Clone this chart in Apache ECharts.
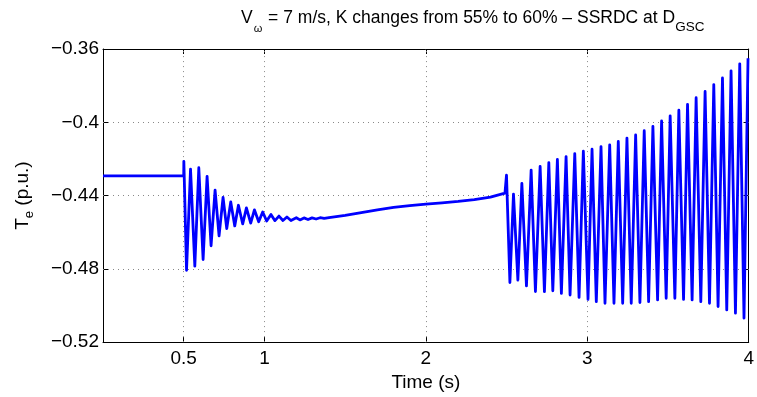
<!DOCTYPE html>
<html>
<head>
<meta charset="utf-8">
<script src="https://cdn.jsdelivr.net/npm/echarts@6/dist/echarts.min.js"></script>
<style>html,body{margin:0;padding:0;background:#fff}#c{width:757px;height:397px}</style>
</head>
<body>
<div id="c"></div>
<script>
// Time (s)
var timeS = [0, 0.5,
  0.5008, 0.5175, 0.5422, 0.5688, 0.5935, 0.6201, 0.6448, 0.6695, 0.6943, 0.7190,
  0.7437, 0.7666, 0.7913, 0.8161, 0.8389, 0.8655, 0.8884, 0.9150, 0.9379, 0.9645,
  0.9892, 1.0139, 1.0405, 1.0652, 1.0900, 1.1147, 1.1394, 1.1641, 1.1975,
  1.22, 1.245, 1.27, 1.295, 1.32, 1.345, 1.37, 1.40,
  1.5, 1.6, 1.7, 1.8, 1.9, 2.0, 2.1, 2.2, 2.3, 2.4, 2.49, 2.4995,
  2.5206, 2.5428, 2.5700, 2.5947, 2.6232, 2.6522, 2.6788, 2.7079, 2.7345, 2.7617,
  2.7864, 2.8148, 2.8396, 2.8686, 2.8933, 2.9224, 2.9490, 2.9756, 3.0046, 3.0294,
  3.0559, 3.0850, 3.1097, 3.1388, 3.1654, 3.1920, 3.2192, 3.2457, 3.2723, 3.2995,
  3.3261, 3.3527, 3.3799, 3.4065, 3.4355, 3.4603, 3.4887, 3.5134, 3.5425, 3.5672,
  3.5963, 3.6210, 3.6494, 3.6742, 3.7032, 3.7298, 3.7570, 3.7836, 3.8102, 3.8374,
  3.8640, 3.8906, 3.9178, 3.9444, 3.9709, 3.9957];
// Electromagnetic torque Te (p.u.)
var torquePU = [-0.4293, -0.4293,
  -0.4213, -0.4808, -0.4256, -0.4785, -0.4248, -0.4749, -0.4295, -0.4674, -0.4370, -0.4620,
  -0.4410, -0.4580, -0.4435, -0.4566, -0.4453, -0.4555, -0.4467, -0.4550, -0.4478, -0.4543,
  -0.4490, -0.4539, -0.4503, -0.4537, -0.4512, -0.4536, -0.4517, -0.4536, -0.4521,
  -0.4533, -0.4522, -0.4531, -0.4522, -0.4528, -0.4521, -0.4525, -0.4520,
  -0.4508, -0.4493, -0.4478, -0.4465, -0.4455, -0.4447, -0.4440, -0.4432, -0.4422, -0.4409, -0.4387, -0.4288,
  -0.4875, -0.4392, -0.4862, -0.4333, -0.4893, -0.4261, -0.4924, -0.4241, -0.4925, -0.4220,
  -0.4920, -0.4203, -0.4934, -0.4187, -0.4943, -0.4171, -0.4956, -0.4158, -0.4967, -0.4147,
  -0.4979, -0.4133, -0.4988, -0.4123, -0.4988, -0.4105, -0.4988, -0.4086, -0.4988, -0.4069,
  -0.4984, -0.4046, -0.4979, -0.4022, -0.4970, -0.3993, -0.4961, -0.3965, -0.4961, -0.3934,
  -0.4967, -0.3902, -0.4970, -0.3866, -0.4979, -0.3832, -0.4988, -0.3794, -0.5006, -0.3758,
  -0.5024, -0.3719, -0.5042, -0.3681, -0.5069, -0.3650];
var xTicks = [0.5, 1, 2, 3, 4];
var xGrid = [0.5, 1, 2, 3];
var yGrid = [-0.4, -0.44, -0.48];

var data = timeS.map(function (t, i) { return [t, torquePU[i]]; });
var FONT = '"Liberation Sans", Arial, sans-serif';
function yFmt(v) { return String(parseFloat(v.toFixed(2))).replace('-', '\u2212'); }

var gridLines = xGrid.map(function (v) { return { xAxis: v }; })
  .concat(yGrid.map(function (v) { return { yAxis: v }; }));

var chart = echarts.init(document.getElementById('c'), null, { renderer: 'canvas' });
chart.setOption({
  animation: false,
  backgroundColor: '#fff',
  title: {
    text: '{n|V}{w|\u03c9}{n| = 7 m/s, K changes from 55% to 60% \u2013 SSRDC at D}{s|GSC}',
    left: 236, top: 4,
    textStyle: {
      fontWeight: 'normal',
      rich: {
        n: { fontFamily: FONT, fontSize: 17.5, fontWeight: 'normal', color: '#000', lineHeight: 22, verticalAlign: 'top' },
        w: { fontFamily: FONT, fontSize: 11, fontWeight: 'normal', color: '#000', lineHeight: 22, verticalAlign: 'top', padding: [14, 1, 0, 1] },
        s: { fontFamily: FONT, fontSize: 13.5, fontWeight: 'normal', color: '#000', lineHeight: 22, verticalAlign: 'top', padding: [11, 0, 0, 0] }
      }
    }
  },
  grid: { left: 103, top: 49, right: 7, bottom: 51, containLabel: false },
  xAxis: [{
    type: 'value', min: 0, max: 4, interval: 0.5,
    name: 'Time (s)', nameLocation: 'middle', nameGap: 25,
    nameTextStyle: { fontFamily: FONT, fontSize: 19, color: '#000' },
    axisLine: { show: true, onZero: false, lineStyle: { color: '#000', width: 1 } },
    axisTick: { show: true, inside: true, length: 5, customValues: xTicks, lineStyle: { color: '#000' } },
    axisLabel: { customValues: xTicks, fontFamily: FONT, fontSize: 19, color: '#000', margin: 7 },
    splitLine: { show: false }
  }, {
    type: 'value', min: 0, max: 4, interval: 0.5, position: 'top',
    axisLine: { show: true, onZero: false, lineStyle: { color: '#000', width: 1 } },
    axisTick: { show: true, inside: true, length: 5, customValues: xTicks, lineStyle: { color: '#000' } },
    axisLabel: { show: false },
    splitLine: { show: false }
  }],
  yAxis: [{
    type: 'value', min: -0.52, max: -0.36, interval: 0.04,
    name: '{n|T}{s|e}{n| (p.u.)}', nameLocation: 'middle', nameGap: 66, nameRotate: 90,
    nameTextStyle: {
      rich: {
        n: { fontFamily: FONT, fontSize: 19, color: '#000', lineHeight: 24, verticalAlign: 'top' },
        s: { fontFamily: FONT, fontSize: 13, color: '#000', lineHeight: 24, verticalAlign: 'top', padding: [10, 0, 0, 0] }
      }
    },
    axisLine: { show: true, onZero: false, lineStyle: { color: '#000', width: 1 } },
    axisTick: { show: true, inside: true, length: 5, lineStyle: { color: '#000' } },
    axisLabel: { formatter: yFmt, fontFamily: FONT, fontSize: 19, color: '#000', margin: 4 },
    splitLine: { show: false }
  }, {
    type: 'value', min: -0.52, max: -0.36, interval: 0.04, position: 'right',
    axisLine: { show: true, onZero: false, lineStyle: { color: '#000', width: 1 } },
    axisTick: { show: true, inside: true, length: 5, lineStyle: { color: '#000' } },
    axisLabel: { show: false },
    splitLine: { show: false }
  }],
  series: [{
    type: 'line',
    data: data,
    showSymbol: false,
    symbol: 'none',
    lineStyle: { color: '#0000ff', width: 2.8, join: 'round' },
    z: 3,
    markLine: {
      silent: true, symbol: ['none', 'none'],
      label: { show: false },
      lineStyle: { color: '#888', type: [1, 4], width: 1 },
      z: 1,
      data: gridLines
    }
  }]
});
</script>
</body>
</html>
